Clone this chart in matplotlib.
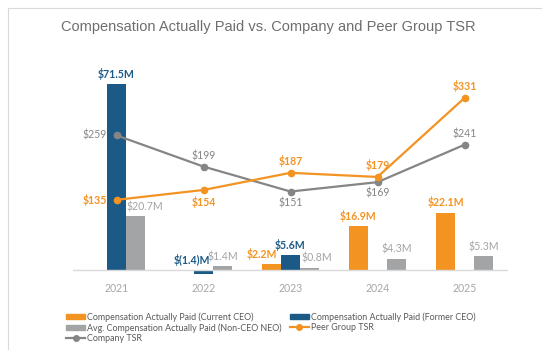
import matplotlib.pyplot as plt
import matplotlib.patches as mpatches
from matplotlib.lines import Line2D
import numpy as np

plt.rcParams['font.family'] = ['Lato', 'DejaVu Sans']

# データ
years = ['2021', '2022', '2023', '2024', '2025']
cap_current = [np.nan, np.nan, 2.2, 16.9, 22.1]
cap_former = [71.5, -1.4, 5.6, np.nan, np.nan]
cap_neo = [20.7, 1.4, 0.8, 4.3, 5.3]
peer_tsr = [135, 154, 187, 179, 331]
company_tsr = [259, 199, 151, 169, 241]

c_orange = '#F39322'
c_blue = '#1B5A87'
c_gray = '#A3A4A6'
c_line_gray = '#858585'

fig = plt.figure(figsize=(5.42, 3.5), dpi=100)
W, H = 542, 350
ax = fig.add_axes([73 / W, 1 - 276 / H, 435 / W, 216 / H])
ax2 = ax.twinx()

x = np.arange(len(years))
bw = 0.218

ax.bar(x - bw, cap_current, bw, color=c_orange)
ax.bar(x, cap_former, bw, color=c_blue)
ax.bar(x + bw, cap_neo, bw, color=c_gray)
ax.axhline(0, color='#D9D9D9', lw=1)

ymin, ymax = -2.3, 80.8
ax.set_ylim(ymin, ymax)
ax2.set_ylim(ymin * 5, ymax * 5)
ax.set_xlim(-0.5, 4.5)

ax2.plot(x, company_tsr, color=c_line_gray, lw=1.6, marker='o', ms=4.5)
ax2.plot(x, peer_tsr, color=c_orange, lw=1.6, marker='o', ms=4.5)


def fmt_m(v):
    return '$(%.1f)M' % -v if v < 0 else '$%.1fM' % v


fs = 7.6
# 棒のラベル
for i in range(len(years)):
    if not np.isnan(cap_current[i]):
        dx = -7 if i == 2 else 0
        ax.annotate(fmt_m(cap_current[i]), (x[i] - bw, cap_current[i]), xytext=(dx, 3),
                    textcoords='offset points', ha='center', va='bottom',
                    color=c_orange, fontsize=fs, fontweight='bold')
    if not np.isnan(cap_former[i]):
        v = cap_former[i]
        dx = -8 if v < 0 else 0
        ax.annotate(fmt_m(v), (x[i], max(v, 0)), xytext=(dx, 3),
                    textcoords='offset points', ha='center', va='bottom',
                    color=c_blue, fontsize=fs, fontweight='bold')
    dx = {0: 7, 2: 5}.get(i, 0)
    ax.annotate(fmt_m(cap_neo[i]), (x[i] + bw, cap_neo[i]), xytext=(dx, 3),
                textcoords='offset points', ha='center', va='bottom',
                color=c_gray, fontsize=fs)

# 線のラベル
comp_pos = ['left', 'above', 'below', 'below', 'above']
peer_pos = ['left', 'below', 'above', 'above', 'above']
for i in range(len(years)):
    for val, pos, col, wt in [(company_tsr[i], comp_pos[i], c_line_gray, 'normal'),
                              (peer_tsr[i], peer_pos[i], c_orange, 'bold')]:
        if pos == 'left':
            off, ha, va = (-7, 0), 'right', 'center'
        elif pos == 'above':
            off, ha, va = (0, 4), 'center', 'bottom'
        else:
            off, ha, va = (0, -4), 'center', 'top'
        ax2.annotate('$%d' % val, (x[i], val), xytext=off, textcoords='offset points',
                     ha=ha, va=va, color=col, fontsize=fs, fontweight=wt)

ax.set_xticks(x)
ax.set_xticklabels(years, color='#A6A6A6', fontsize=7.6)
ax.tick_params(axis='x', length=0, pad=5)
ax.set_yticks([])
ax2.set_yticks([])
for a in (ax, ax2):
    for s in a.spines.values():
        s.set_visible(False)

fig.text(0.495, 1 - 27 / H, 'Compensation Actually Paid vs. Company and Peer Group TSR',
         ha='center', va='center', fontsize=10.5, color='#6E6E6E', family='Liberation Sans')

# 外枠
fig.patches.append(mpatches.Rectangle((8 / W, -0.1), 1.2, 1.1 - 8 / H, transform=fig.transFigure,
                                      fill=False, ec='#D9D9D9', lw=0.8))

handles = [
    mpatches.Patch(color=c_orange, label='Compensation Actually Paid (Current CEO)'),
    mpatches.Patch(color=c_gray, label='Avg. Compensation Actually Paid (Non-CEO NEO)'),
    Line2D([], [], color=c_line_gray, lw=1.6, marker='o', ms=4, label='Company TSR'),
    mpatches.Patch(color=c_blue, label='Compensation Actually Paid (Former CEO)'),
    Line2D([], [], color=c_orange, lw=1.6, marker='o', ms=4, label='Peer Group TSR'),
]
leg = fig.legend(handles=handles, ncol=2, loc='upper left', bbox_to_anchor=(62 / W, 1 - 308 / H),
                 frameon=False, fontsize=6.4, handlelength=2.1, handleheight=0.5,
                 handletextpad=0.25, columnspacing=0.9, labelspacing=0.15, borderpad=0)
for t in leg.get_texts():
    t.set_color('#595959')

fig.savefig('out.png', dpi=100)
